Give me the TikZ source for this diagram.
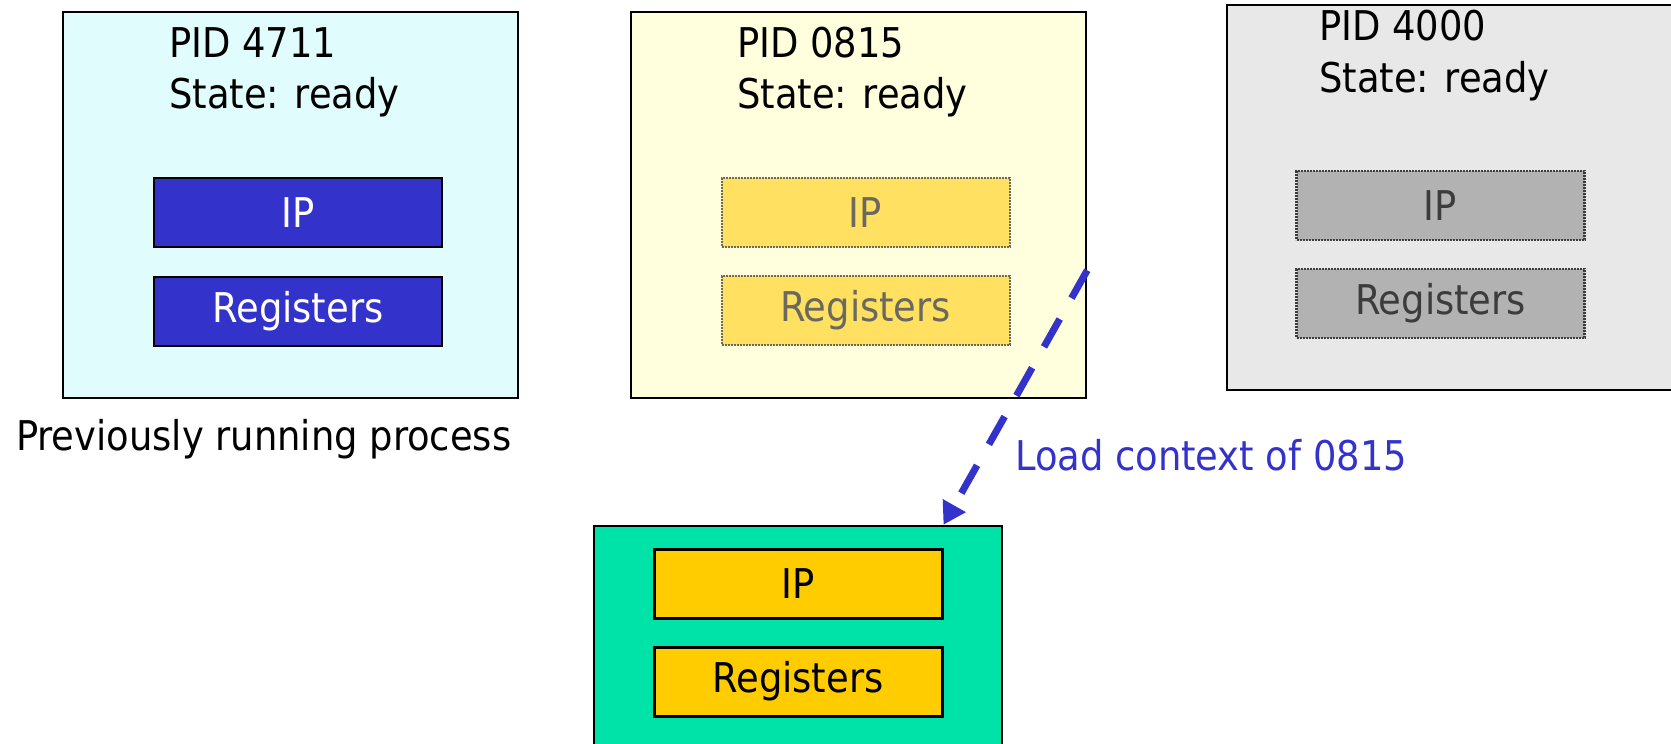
\documentclass[tikz,border=0pt]{standalone}
\usepackage{fontspec}
\setmainfont{DejaVu Sans Condensed}
\usetikzlibrary{arrows.meta,calc}

\definecolor{cyanbg}{RGB}{224,252,252}
\definecolor{procblue}{RGB}{51,51,204}
\definecolor{creambg}{RGB}{255,255,222}
\definecolor{pale yellow}{RGB}{255,224,96}
\definecolor{fadetext}{RGB}{105,105,95}
\definecolor{greybg}{RGB}{232,232,232}
\definecolor{greyreg}{RGB}{178,178,178}
\definecolor{greytext}{RGB}{60,60,60}
\definecolor{cpugreen}{RGB}{0,227,168}
\definecolor{regyellow}{RGB}{255,204,0}

\tikzset{
  big/.style={font=\fontsize{41}{49}\selectfont},
  pcb/.style={draw=black, line width=2.5pt, inner sep=0pt,
    minimum width=455pt, minimum height=386pt},
  regbox/.style={big, inner sep=0pt, minimum width=288pt, minimum height=69pt},
  activereg/.style={regbox, draw=black, line width=2.5pt, fill=procblue, text=white},
  savedreg/.style={regbox, draw=fadetext, line width=2pt,
    dash pattern=on 2pt off 1pt, fill=pale yellow, text=fadetext},
  idlereg/.style={regbox, draw=greytext, line width=2.5pt,
    dash pattern=on 2pt off 1pt, fill=greyreg, text=greytext},
  cpureg/.style={regbox, draw=black, line width=3pt, fill=regyellow, text=black},
  label/.style={big, inner sep=0pt, anchor=base west},
  loadarrow/.style={draw=procblue, line width=7pt, dash pattern=on 32pt off 24pt,
    -{Triangle[length=22pt, width=25pt]}}
}

\begin{document}
\begin{tikzpicture}[x=1pt, y=-1pt]
  \useasboundingbox (0,0) rectangle (1671,744);
  \clip (0,0) rectangle (1671,744);

  % process 4711
  \node[pcb, fill=cyanbg] (p1) at (290.5,205) {};
  \node[label] (p1id) at (169,57) {PID 4711};
  \node[label] (p1st) at (169,108) {State: ready};
  \node[activereg] (p1ip) at (298,212.5) {IP};
  \node[activereg] (p1rg) at (298,311.5) {Registers};
  \node[label] (prev) at (16,450) {Previously running process};

  % process 0815
  \node[pcb, fill=creambg] (p2) at (858.5,205) {};
  \node[label] (p2id) at (737,57) {PID 0815};
  \node[label] (p2st) at (737,108) {State: ready};
  \node[savedreg] (p2ip) at (865.5,212.5) {IP};
  \node[savedreg] (p2rg) at (865.5,310.5) {Registers};

  % process 4000
  \node[pcb, fill=greybg, minimum height=385pt] (p3) at (1454.5,197.5) {};
  \node[label] (p3id) at (1319,40) {PID 4000};
  \node[label] (p3st) at (1319,92) {State: ready};
  \node[idlereg] (p3ip) at (1440.5,205.5) {IP};
  \node[idlereg] (p3rg) at (1440.5,303.5) {Registers};

  % CPU
  \node[draw=black, line width=2.5pt, fill=cpugreen, inner sep=0pt,
    minimum width=408pt, minimum height=264pt] (cpu) at (798,658) {};
  \node[cpureg] (cip) at (798,583.5) {IP};
  \node[cpureg] (crg) at (798,681.5) {Registers};

  % context load
  \coordinate (src) at ($(p2.north east)!0.668!(p2.south east)$);
  \draw[loadarrow] (src) -- (cpu.north -| cip.east);
  \node[label, text=procblue] (load) at (1015,470) {Load context of 0815};
\end{tikzpicture}
\end{document}
